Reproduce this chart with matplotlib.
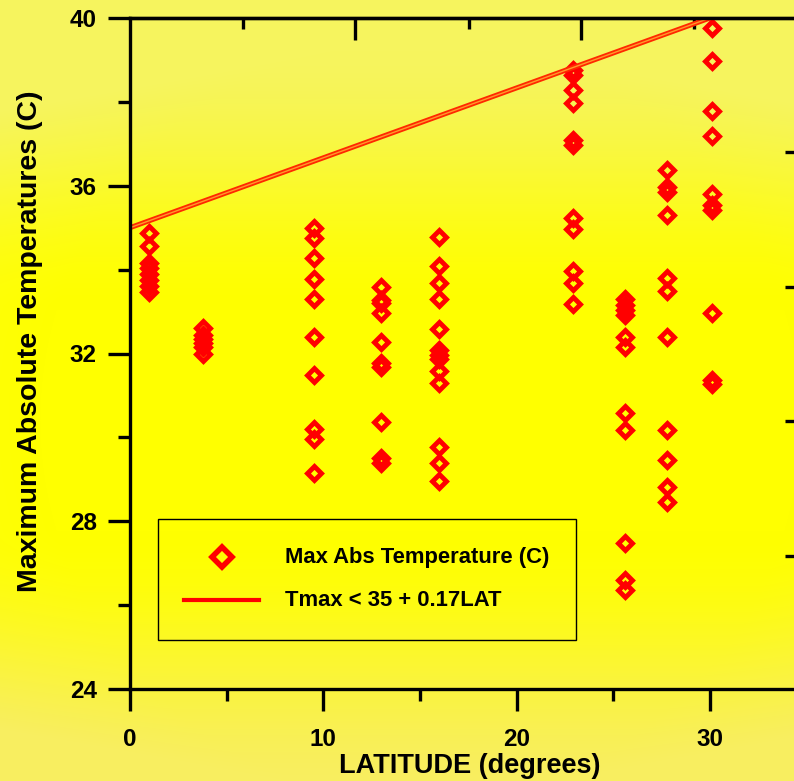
import numpy as np
import matplotlib
matplotlib.use("Agg")
import matplotlib.pyplot as plt
from matplotlib.colors import to_rgb
from matplotlib.patches import Rectangle
from matplotlib.lines import Line2D

plt.rcParams['font.family'] = ['Liberation Sans', 'DejaVu Sans']
plt.rcParams['font.weight'] = 'bold'

##############################################################################
# data: latitude columns and max abs temperatures (C)
lat_cols = [1.0, 3.8, 9.5, 13.0, 16.0, 22.9, 25.6, 27.8, 30.1]
temps = [
    [34.87, 34.56, 34.15, 34.03, 33.9, 33.75, 33.6, 33.46],
    [32.6, 32.45, 32.35, 32.25, 32.15, 31.98],
    [34.99, 34.75, 34.27, 33.77, 33.29, 32.39, 31.48, 30.19, 29.95, 29.16],
    [33.58, 33.27, 33.2, 32.96, 32.27, 31.77, 31.67, 30.36, 29.5, 29.38],
    [34.77, 34.08, 33.68, 33.29, 32.58, 32.08, 31.96, 31.86, 31.58, 31.29,
     29.76, 29.38, 28.97],
    [38.76, 38.64, 38.28, 37.97, 37.09, 36.97, 35.23, 34.96, 33.96, 33.68, 33.17],
    [33.29, 33.15, 33.03, 32.91, 32.39, 32.15, 30.57, 30.17, 27.47, 26.59, 26.35],
    [36.37, 35.97, 35.85, 35.3, 33.8, 33.48, 32.39, 30.17, 29.47, 28.81, 28.45],
    [39.76, 38.97, 37.78, 37.18, 35.8, 35.54, 35.42, 32.96, 31.36, 31.27],
]
line_lat = [0.0, 30.0]
line_tmax = [35.0, 40.0]

x_major = [0, 10, 20, 30]
x_minor = [5, 15, 25]
y_major = [24, 28, 32, 36, 40]
y_minor = [26, 30, 34, 38]
top_major = [11.64, 23.33]
top_minor = [5.85, 17.54, 29.18]
right_ticks = [27.18, 30.4, 33.58, 36.8]

legend_labels = ['Max Abs Temperature (C)', 'Tmax < 35 + 0.17LAT']

##############################################################################
W, H = 794, 781
fig = plt.figure(figsize=(W / 100, H / 100), dpi=100)

# yellow background, paler towards top and bottom
bg = fig.add_axes([0, 0, 1, 1], zorder=-10)
bg.set_axis_off()
yy, xx = np.mgrid[0:H, 0:W]
t = np.clip((np.abs(yy - 420) - 110) / 260.0, 0, 1)
t = t * t * (3 - 2 * t)
t = np.clip(t + 0.25 * np.clip((np.hypot(xx - 420, yy - 420) - 380) / 250, 0, 1), 0, 1)
bright = np.array(to_rgb('#ffff00'))
pale_top = np.array(to_rgb('#f6f45e'))
pale_bot = np.array(to_rgb('#f8ee60'))
pale = np.where((yy < 420)[..., None], pale_top, pale_bot)
img = bright * (1 - t[..., None]) + pale * t[..., None]
bg.imshow(img, aspect='auto', extent=[0, 1, 0, 1], origin='upper')

x0, x1, ytop, ybot = 130, 797, 18, 689
ax = fig.add_axes([x0 / W, (H - ybot) / H, (x1 - x0) / W, (ybot - ytop) / H])
ax.set_facecolor('none')
ax.set_xlim(0, 34.5)
ax.set_ylim(24, 40)

for i, lat in enumerate(lat_cols):
    ax.plot([lat] * len(temps[i]), temps[i], linestyle='none', marker='D',
            ms=7.6, mew=3.5, mec='#ff0000', mfc='none')

ax.plot(line_lat, line_tmax, color='#ff2800', lw=3.6, solid_capstyle='butt')
ax.plot(line_lat, line_tmax, color='#ff9a2a', lw=1.0, solid_capstyle='butt')

for s in ax.spines.values():
    s.set_linewidth(2.4)

ax.set_xticks(x_major)
ax.set_xticks(x_minor, minor=True)
ax.set_yticks(y_major)
ax.set_yticks(y_minor, minor=True)
ax.tick_params(which='major', direction='out', length=16, width=2.4,
               labelsize=17.5, top=False, right=False)
ax.tick_params(which='minor', direction='out', length=8.5, width=2.4,
               top=False, right=False)
ax.tick_params(axis='x', which='major', pad=12)
ax.tick_params(axis='y', which='major', pad=8)

top = ax.secondary_xaxis('top')
top.set_xticks(top_major)
top.set_xticks(top_minor, minor=True)
top.tick_params(which='major', direction='in', length=16, width=2.4, labeltop=False)
top.tick_params(which='minor', direction='in', length=8, width=2.4)
top.spines['top'].set_linewidth(2.4)

right = ax.secondary_yaxis('right')
right.set_yticks(right_ticks)
right.tick_params(direction='in', length=9, width=2.4, labelright=False)
right.yaxis.set_minor_locator(matplotlib.ticker.NullLocator())

ax.set_xlabel('LATITUDE (degrees)', fontsize=19.5, fontweight='bold')
ax.set_ylabel('Maximum Absolute Temperatures (C)', fontsize=20.5, fontweight='bold')
ax.xaxis.set_label_coords((470 - x0) / (x1 - x0), -(766 - ybot) / (ybot - ytop))
ax.xaxis.label.set_va('center')
ax.yaxis.set_label_coords(-(130 - 30) / (x1 - x0), (ybot - 341) / (ybot - ytop))
ax.yaxis.label.set_va('center')

# legend box drawn by hand
def fx(px):
    return (px - x0) / (x1 - x0)

def fy(py):
    return (ybot - py) / (ybot - ytop)

ax.add_patch(Rectangle((fx(158), fy(640)), fx(576) - fx(158), fy(519) - fy(640),
                       transform=ax.transAxes, fill=False, ec='black', lw=1.0))
ax.add_line(Line2D([fx(222)], [fy(557)], transform=ax.transAxes, marker='D',
                   ms=10.5, mew=4.0, mec='#ff0000', mfc='none'))
ax.add_line(Line2D([fx(184), fx(259)], [fy(600), fy(600)], transform=ax.transAxes,
                   color='#ff0000', lw=3.0))
ax.text(fx(285), fy(557), legend_labels[0], transform=ax.transAxes,
        fontsize=15.8, fontweight='bold', va='center', ha='left')
ax.text(fx(285), fy(600), legend_labels[1], transform=ax.transAxes,
        fontsize=15.8, fontweight='bold', va='center', ha='left')

fig.savefig('out.png', dpi=100)
